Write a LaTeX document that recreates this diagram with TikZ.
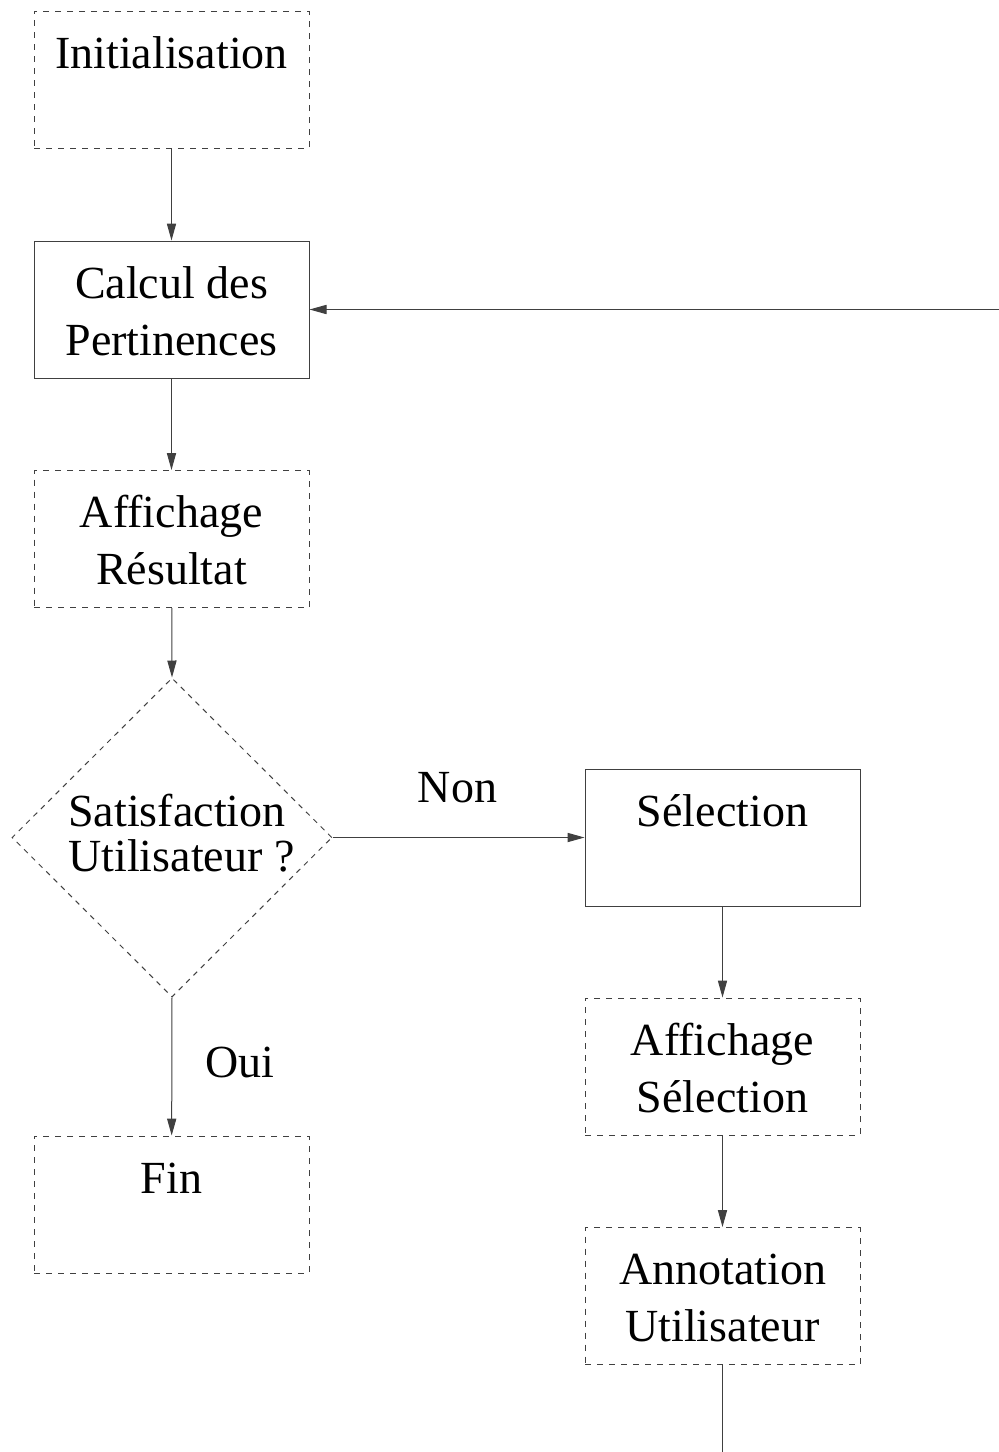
\documentclass[tikz,border=0pt]{standalone}
\usepackage{fontspec}
\setmainfont{Liberation Serif}
\usetikzlibrary{shapes.geometric,arrows.meta}
\tikzset{
  linecol/.style={draw=black!75, line width=0.5pt},
  stepbox/.style={linecol, rectangle, inner sep=0pt, text width=137.5pt, align=flush center,
     text height=28.5pt, text depth=40pt, font=\fontsize{23}{28.5}\selectfont},
  dashbox/.style={stepbox, dash pattern=on 3pt off 3pt},
  solidbox/.style={stepbox},
  decision/.style={linecol, diamond, aspect=1, inner sep=0pt, minimum width=160pt,
     minimum height=159.5pt, dash pattern=on 2.6pt off 2.6pt},
  lbl/.style={inner sep=0pt, font=\fontsize{23}{28.5}\selectfont},
  flow/.style={linecol, -{Triangle[length=8.5pt,width=4.6pt]}},
}
\begin{document}
\begin{tikzpicture}[x=0.5pt, y=-0.5pt]
\useasboundingbox (0,0) rectangle (999,1452);
% left column
\node[dashbox]  (init)  at (171.5,79.5)   {Initialisation};
\node[solidbox] (calc)  at (171.5,309.5)  {Calcul des\\Pertinences};
\node[dashbox]  (aff)   at (171.5,539)    {Affichage\\R\'esultat};
\node[decision] (q)     at (172,837.5)    {};
\node[lbl, anchor=base west, align=left, font=\fontsize{23}{22.5}\selectfont] (qtext) at (68,871) {Satisfaction\\Utilisateur ?};
\node[dashbox]  (fin)   at (171.5,1204.5) {Fin};
% right column
\node[solidbox] (sel)    at (722.5,837.5)  {S\'election};
\node[dashbox]  (affsel) at (722.5,1066.5) {Affichage\\S\'election};
\node[dashbox]  (annot)  at (722.5,1296)   {Annotation\\Utilisateur};
% labels
\node[lbl, anchor=base] (non) at (457.5,802) {Non};
\node[lbl, anchor=base] (oui) at (240,1077)  {Oui};
% free ends
\coordinate (loopin) at (999,309.5);
\coordinate (loopout) at (722.5,1452);
% connectors
\draw[flow] (init) -- (calc);
\draw[flow] (calc) -- (aff);
\draw[flow] (aff) -- (q.north);
\draw[flow] (q.east) -- (sel.west);
\draw[flow] (q.south) -- (fin);
\draw[flow] (sel) -- (affsel);
\draw[flow] (affsel) -- (annot);
\draw[linecol] (annot.south) -- (loopout);
\draw[flow] (loopin) -- (calc.east);
\end{tikzpicture}
\end{document}
